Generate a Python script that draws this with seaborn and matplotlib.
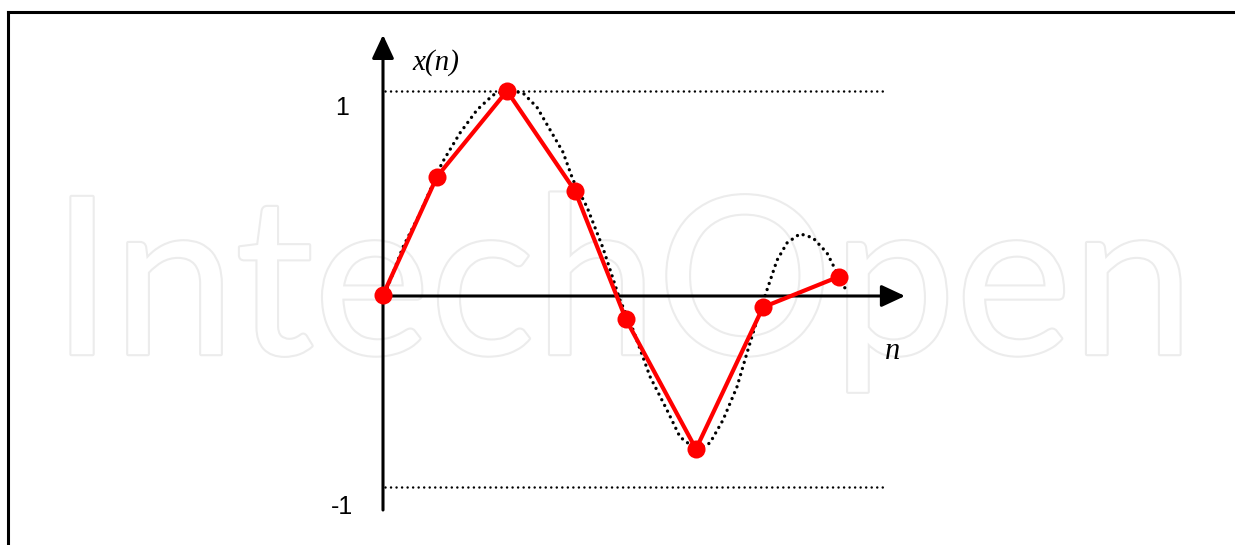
import matplotlib
matplotlib.use("Agg")
import matplotlib.pyplot as plt
import matplotlib.patheffects as pe
import seaborn as sns
import pandas as pd

# sampled signal x(n) (red)
n_samples = [0.0, 0.54, 1.24, 1.92, 2.43, 3.13, 3.80, 4.56]
x_samples = [0.0, 0.58, 1.0, 0.51, -0.12, -0.755, -0.06, 0.09]

# continuous signal (dotted)
t_curve = [0.02, 0.20, 0.37, 0.59, 0.77, 0.94, 1.10, 1.24, 1.40, 1.54, 1.67,
           1.80, 1.90, 2.04, 2.20, 2.37, 2.50, 2.67, 2.84, 2.97, 3.14, 3.27,
           3.40, 3.54, 3.64, 3.74, 3.84, 3.94, 4.04, 4.17, 4.30, 4.44, 4.54, 4.64]
x_curve = [0.005, 0.235, 0.40, 0.647, 0.794, 0.907, 0.98, 1.005, 0.99, 0.92, 0.81,
           0.70, 0.564, 0.431, 0.23, -0.025, -0.17, -0.40, -0.564, -0.696, -0.76, -0.725,
           -0.613, -0.45, -0.284, -0.123, 0.025, 0.17, 0.255, 0.30, 0.28, 0.206, 0.108, 0.015]

level_hi = 1.0
level_lo = -0.94
level_x = [0.02, 5.0]

tick_labels = ["1", "-1"]

sns.set_theme(style="white")

fig = plt.figure(figsize=(12.35, 5.45), dpi=100)
ax = fig.add_axes([8 / 1235, 0, 1.0, 533 / 545])
ax.set_xlim(-3.75, 8.60)
ax.set_ylim(-1.2255, 1.387)
ax.set_xticks([])
ax.set_yticks([])
for side in ["right", "bottom"]:
    ax.spines[side].set_visible(False)
for side in ["left", "top"]:
    ax.spines[side].set_color("black")
    ax.spines[side].set_linewidth(2.2)

# watermark
ax.text(2.40, -0.29, "IntechOpen", ha="center", va="baseline", fontsize=158,
        family="Lato", color="white", zorder=0,
        path_effects=[pe.withStroke(linewidth=3, foreground="#ececec")])

# reference levels
for lev in [level_hi, level_lo]:
    ax.plot(level_x, [lev, lev], color="black", lw=1.8,
            linestyle=(0, (0.01, 2.2)), dash_capstyle="round", zorder=2)

# continuous curve
df_c = pd.DataFrame({"t": t_curve, "x": x_curve})
sns.lineplot(data=df_c, x="t", y="x", ax=ax, color="black", lw=2.4,
             linestyle=(0, (0.01, 1.9)), dash_capstyle="round", zorder=3)

# axes arrows
arrow = dict(arrowstyle="-|>,head_length=0.9,head_width=0.42", color="black",
             lw=2.2, mutation_scale=16, shrinkA=0, shrinkB=0)
ax.annotate("", xy=(0, 1.275), xytext=(0, -1.054), arrowprops=arrow, zorder=4)
ax.annotate("", xy=(5.22, -0.005), xytext=(0, -0.005), arrowprops=arrow, zorder=4)

# sampled signal
df_s = pd.DataFrame({"n": n_samples, "x": x_samples})
sns.lineplot(data=df_s, x="n", y="x", ax=ax, color="red", lw=3.0, marker="o",
             markersize=13, markeredgewidth=0, zorder=5)

ax.set_xlabel("")
ax.set_ylabel("")

ax.text(-0.41, 0.917, tick_labels[0], ha="center", va="center", fontsize=18,
        family="Liberation Sans", color="black")
ax.text(-0.41, -1.039, tick_labels[1], ha="center", va="center", fontsize=18,
        family="Liberation Sans", color="black")
ax.text(0.53, 1.137, "x(n)", ha="center", va="center", fontsize=21,
        family="Liberation Serif", style="italic", color="black")
ax.text(5.10, -0.279, "n", ha="center", va="center", fontsize=22,
        family="Liberation Serif", style="italic", color="black")

fig.savefig("out.png", dpi=100, facecolor="white")
